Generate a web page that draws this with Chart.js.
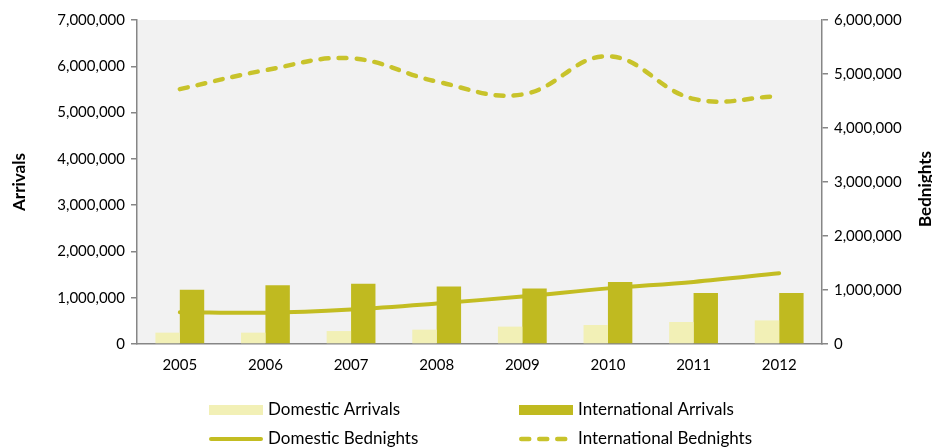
<!DOCTYPE html>
<html>
<head>
<meta charset="utf-8">
<script src="https://cdn.jsdelivr.net/npm/chart.js@4.4.1/dist/chart.umd.min.js"></script>
<style>
    html, body { margin: 0; padding: 0; background: #fff; }
    #wrap { width: 932px; height: 448px; }
</style>
</head>
<body>
<div id="wrap"><canvas id="tourismChart" width="932" height="448"></canvas></div>
<script>
'use strict';

// Series data
var years = ['2005', '2006', '2007', '2008', '2009', '2010', '2011', '2012'];
var domesticArrivals = [245000, 245000, 280000, 310000, 375000, 410000, 475000, 510000];
var internationalArrivals = [1170000, 1270000, 1300000, 1240000, 1200000, 1340000, 1100000, 1100000];
var domesticBednights = [590000, 580000, 640000, 750000, 880000, 1030000, 1150000, 1310000];
var internationalBednights = [4720000, 5070000, 5290000, 4860000, 4620000, 5330000, 4540000, 4590000];

// Colours
var paleOlive = '#F2F0B6';
var olive = '#C0BA20';
var oliveLine = '#C3BD22';
var oliveDash = '#C8C32B';
var axisGrey = '#868686';

Chart.defaults.font.family = 'Lato';
Chart.defaults.font.size = 15;
Chart.defaults.color = '#000';

function withCommas(v) {
    return String(v).replace(/\B(?=(\d{3})+(?!\d))/g, ',');
}

// ------------------------------------------------------- //
// Plot background, axis titles and two-column legend
// ------------------------------------------------------ //
var plotBackground = {
    id: 'plotBackground',
    beforeDraw: function (chart) {
        var a = chart.chartArea, ctx = chart.ctx;
        ctx.save();
        ctx.fillStyle = '#F2F2F2';
        ctx.fillRect(a.left, a.top, a.right - a.left, a.bottom - a.top);
        ctx.restore();
    }
};

var axisTitles = {
    id: 'axisTitles',
    afterDraw: function (chart) {
        var ctx = chart.ctx, a = chart.chartArea;
        var mid = (a.top + a.bottom) / 2;
        ctx.save();
        ctx.font = 'bold 17px Lato';
        ctx.fillStyle = '#000';
        ctx.textAlign = 'center';
        ctx.textBaseline = 'middle';
        [['Arrivals', 20, mid], ['Bednights', chart.width - 6, mid + 7]].forEach(function (t) {
            ctx.save();
            ctx.translate(t[1], t[2]);
            ctx.rotate(-Math.PI / 2);
            ctx.fillText(t[0], 0, 0);
            ctx.restore();
        });
        ctx.restore();
    }
};

var gridLegend = {
    id: 'gridLegend',
    afterDraw: function (chart) {
        var ctx = chart.ctx;
        var cols = [209, 519], rows = [410, 439];
        var sample = 54;
        ctx.save();
        ctx.font = '17px Lato';
        ctx.textBaseline = 'middle';
        ctx.textAlign = 'left';
        chart.data.datasets.forEach(function (ds, i) {
            var x = cols[i % 2], y = rows[Math.floor(i / 2)];
            if (ds.type === 'line') {
                var cap = ds.borderWidth / 2;
                ctx.strokeStyle = ds.borderColor;
                ctx.lineWidth = ds.borderWidth;
                ctx.lineCap = 'round';
                ctx.setLineDash(ds.borderDash || []);
                ctx.beginPath();
                ctx.moveTo(x + cap, y);
                ctx.lineTo(x + sample - cap, y);
                ctx.stroke();
                ctx.setLineDash([]);
            } else {
                ctx.fillStyle = ds.backgroundColor;
                ctx.fillRect(x, y - 5, sample, 10);
            }
            ctx.fillStyle = '#000';
            ctx.fillText(ds.label, x + sample + 5, y);
        });
        ctx.restore();
    }
};

// ------------------------------------------------------- //
// Arrivals (bars) and bednights (lines)
// ------------------------------------------------------ //
var tourismChart = new Chart(document.getElementById('tourismChart'), {
    type: 'bar',
    plugins: [plotBackground, axisTitles, gridLegend],
    data: {
        labels: years,
        datasets: [
            {
                label: 'Domestic Arrivals',
                data: domesticArrivals,
                backgroundColor: paleOlive,
                yAxisID: 'y',
                order: 1
            },
            {
                label: 'International Arrivals',
                data: internationalArrivals,
                backgroundColor: olive,
                yAxisID: 'y',
                order: 1
            },
            {
                type: 'line',
                label: 'Domestic Bednights',
                data: domesticBednights,
                borderColor: oliveLine,
                borderWidth: 4,
                borderCapStyle: 'round',
                tension: 0.35,
                pointRadius: 0,
                fill: false,
                yAxisID: 'y1',
                order: 2
            },
            {
                type: 'line',
                label: 'International Bednights',
                data: internationalBednights,
                borderColor: oliveDash,
                borderWidth: 4.5,
                borderDash: [8, 10],
                borderCapStyle: 'round',
                tension: 0.4,
                pointRadius: 0,
                fill: false,
                yAxisID: 'y1',
                order: 0
            }
        ]
    },
    options: {
        responsive: false,
        animation: false,
        devicePixelRatio: 1,
        categoryPercentage: 0.57,
        barPercentage: 1.0,
        layout: { padding: { top: 20, left: 0, right: 0, bottom: 0 } },
        plugins: {
            legend: { display: false },
            tooltip: { enabled: false }
        },
        scales: {
            x: {
                afterFit: function (scale) { scale.height = 104; },
                grid: { drawOnChartArea: false, drawTicks: false },
                border: { color: axisGrey, width: 1.5 },
                ticks: { padding: 12 }
            },
            y: {
                position: 'left',
                min: 0,
                max: 7000000,
                afterFit: function (scale) { scale.width = 137; },
                grid: { drawOnChartArea: false, tickLength: 6, color: axisGrey, lineWidth: 1.5 },
                border: { color: axisGrey, width: 1.5 },
                ticks: { stepSize: 1000000, padding: 6, callback: withCommas }
            },
            y1: {
                position: 'right',
                min: 0,
                max: 6000000,
                afterFit: function (scale) { scale.width = 110; },
                grid: { drawOnChartArea: false, tickLength: 6, color: axisGrey, lineWidth: 1.5 },
                border: { color: axisGrey, width: 1.5 },
                ticks: { stepSize: 1000000, padding: 6, callback: withCommas }
            }
        }
    }
});
</script>
</body>
</html>
